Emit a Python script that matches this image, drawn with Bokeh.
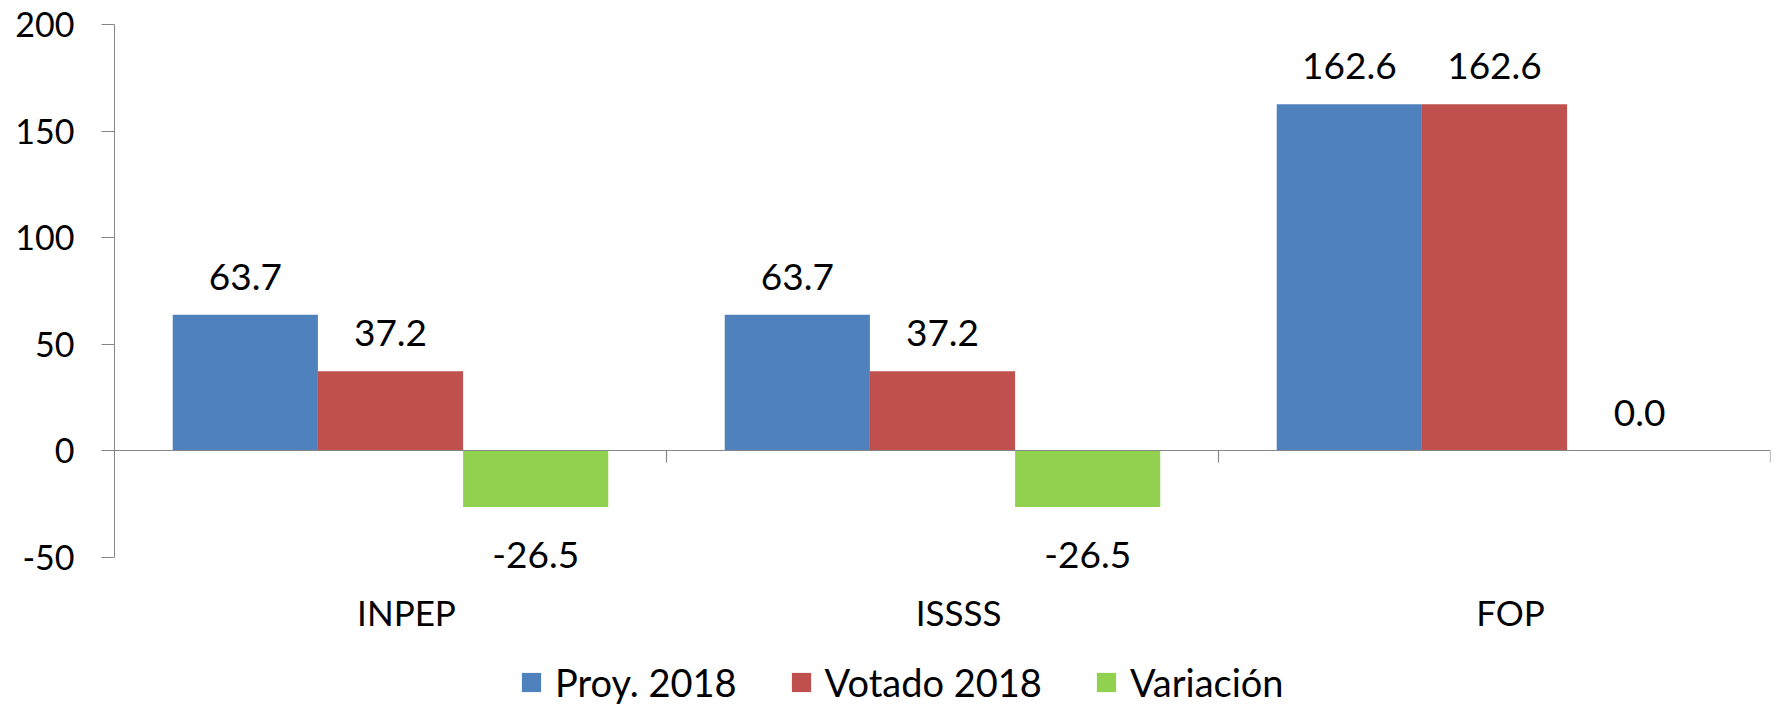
from bokeh.plotting import figure
from bokeh.models import (ColumnDataSource, FixedTicker, LinearAxis, Legend, LegendItem,
                          Span, Range1d, LabelSet)
from bokeh.core.properties import value
from bokeh.transform import dodge
from bokeh.embed import file_html
from bokeh.resources import INLINE

# ---- data ----
categories = ["INPEP", "ISSSS", "FOP"]
proy_2018 = [63.7, 63.7, 162.6]
votado_2018 = [37.2, 37.2, 162.6]
variacion = [-26.5, -26.5, 0.0]
series_names = ["Proy. 2018", "Votado 2018", "Variación"]
y_ticks = [-50, 0, 50, 100, 150, 200]

colors = ["#4F81BD", "#C0504D", "#92D050"]
FONT = "Lato"
AXIS_GRAY = "#868686"

Y_MIN, Y_MAX = -50, 200
FRAME_TOP = 24          # px from top of plot
AXIS_BOTTOM_PX = 556.5  # px where Y_MIN sits
HEIGHT = 704
WIDTH = 1772
LEFT = 114
RIGHT = 2
px_per_unit = (AXIS_BOTTOM_PX - FRAME_TOP) / (Y_MAX - Y_MIN)
y_start = Y_MIN - (HEIGHT - AXIS_BOTTOM_PX) / px_per_unit
cat_px = (WIDTH - LEFT - RIGHT) / len(categories)
label_shift = 16 / cat_px   # category labels sit slightly right of centre

xc = [i + 0.5 for i in range(len(categories))]
src = ColumnDataSource(dict(x=xc, cat=categories, s0=proy_2018, s1=votado_2018, s2=variacion))

p = figure(width=WIDTH, height=HEIGHT, output_backend="svg", toolbar_location=None,
           x_range=Range1d(0, len(categories)), y_range=Range1d(y_start, Y_MAX),
           min_border_left=LEFT, min_border_top=FRAME_TOP, min_border_right=RIGHT, min_border_bottom=0,
           x_axis_type=None, y_axis_type=None)
p.outline_line_color = None
p.xgrid.visible = False
p.ygrid.visible = False

# y axis
yax = LinearAxis(ticker=FixedTicker(ticks=y_ticks), bounds=(Y_MIN, Y_MAX),
                 major_label_overrides={t: str(t) for t in y_ticks})
yax.axis_line_color = AXIS_GRAY
yax.major_tick_line_color = AXIS_GRAY
yax.major_tick_out = 13
yax.major_tick_in = 0
yax.minor_tick_line_color = None
yax.major_label_text_font = FONT
yax.major_label_text_font_size = "34px"
yax.major_label_text_color = "black"
yax.major_label_standoff = 27
p.add_layout(yax, "left")

# category axis (labels only), fixed at the bottom of the value axis
lab_pos = [x + label_shift for x in xc]
xax = LinearAxis(ticker=FixedTicker(ticks=lab_pos),
                 major_label_overrides={x: c for x, c in zip(lab_pos, categories)},
                 fixed_location=Y_MIN)
xax.axis_line_color = None
xax.major_tick_line_color = None
xax.major_tick_out = 0
xax.major_tick_in = 0
xax.minor_tick_line_color = None
xax.major_label_text_font = FONT
xax.major_label_text_font_size = "35px"
xax.major_label_text_color = "black"
xax.major_label_standoff = 34
p.add_layout(xax, "below")

# zero line and category boundary ticks
p.add_layout(Span(location=0, dimension="width", line_color=AXIS_GRAY, line_width=1.2))
bounds = list(range(1, len(categories) + 1))
tick_len = 12 / px_per_unit
p.segment(x0=bounds, y0=[0] * len(bounds), x1=bounds, y1=[-tick_len] * len(bounds),
          line_color=AXIS_GRAY, line_width=1.2)

W = 0.263
offsets = [-W, 0.0, W]
renderers = []
for k in range(3):
    r = p.vbar(x=dodge("x", offsets[k], range=p.x_range), top="s%d" % k, bottom=0,
               width=W, source=src, fill_color=colors[k], line_color=None)
    renderers.append(r)

# value labels
for k, vals in enumerate([proy_2018, votado_2018, variacion]):
    for sign, off in ((1, 38), (-1, -48)):
        idx = [i for i in range(len(vals)) if (vals[i] >= 0) == (sign > 0)]
        if not idx:
            continue
        lsrc = ColumnDataSource(dict(
            x=[xc[i] + offsets[k] for i in idx],
            y=[vals[i] for i in idx],
            t=[f"{vals[i]:.1f}" for i in idx]))
        p.add_layout(LabelSet(x="x", y="y", text="t", source=lsrc, text_align="center",
                              text_baseline="middle", y_offset=off,
                              text_font=value(FONT), text_font_size=value("37px"),
                              text_color="black"))

legend = Legend(items=[LegendItem(label=series_names[k], renderers=[renderers[k]]) for k in range(3)],
                orientation="horizontal", location=(405, -1))
legend.label_text_font = FONT
legend.label_text_font_size = "38px"
legend.label_text_color = "black"
legend.glyph_width = 24
legend.glyph_height = 24
legend.label_standoff = 12
legend.spacing = 52
legend.padding = 0
legend.margin = 0
legend.border_line_color = None
legend.background_fill_alpha = 0
p.add_layout(legend, "center")

open("out.html", "w").write(file_html(p, INLINE))
